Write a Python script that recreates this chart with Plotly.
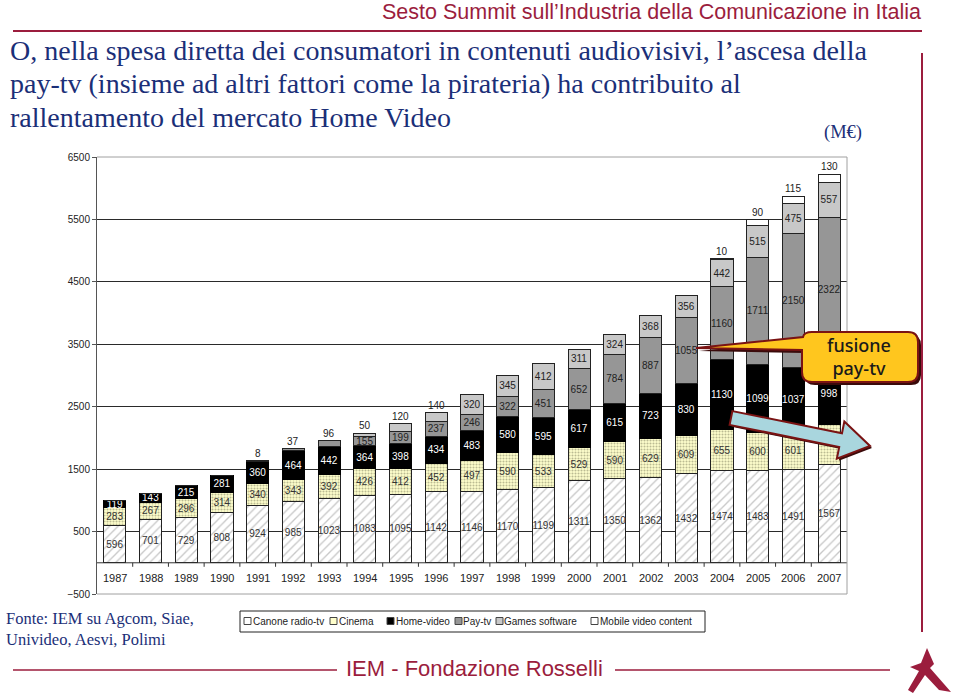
import math
import plotly.graph_objects as go

years = [str(y) for y in range(1987, 2008)]
canone = [596, 701, 729, 808, 924, 985, 1023, 1083, 1095, 1142, 1146, 1170, 1199, 1311, 1350, 1362, 1432, 1474, 1483, 1491, 1567]
cinema = [283, 267, 296, 314, 340, 343, 392, 426, 412, 452, 497, 590, 533, 529, 590, 629, 609, 655, 600, 601, 650]
home_video = [119, 143, 215, 281, 360, 464, 442, 364, 398, 434, 483, 580, 595, 617, 615, 723, 830, 1130, 1099, 1037, 998]
pay_tv = [0, 0, 0, 0, 8, 37, 96, 155, 199, 237, 246, 322, 451, 652, 784, 887, 1055, 1160, 1711, 2150, 2322]
games = [0, 0, 0, 0, 0, 0, 0, 50, 120, 140, 320, 345, 412, 311, 324, 368, 356, 442, 515, 475, 557]
mobile = [0] * 17 + [10, 90, 115, 130]

series_names = ["Canone radio-tv", "Cinema", "Home-video", "Pay-tv", "Games software", "Mobile video content"]

W, H = 960, 695
L_M, R_M, T_M, B_M = 97, 113, 157, 101
PW, PH = W - L_M - R_M, H - T_M - B_M
YMIN, YMAX = -500, 6500
TICK_DATA = 4 * (YMAX - YMIN) / PH  # 4 px expressed in data units

SANS = "Liberation Sans, Arial, sans-serif"
SERIF = "Liberation Serif, Times New Roman, serif"
NAVY = "#1b2f78"
RED = "#9b1d3d"


def px(x):
    return (x - L_M) / PW


def py(y):
    return (H - B_M - y) / PH


def path_px(points, close=True):
    s = "M " + " L ".join(f"{px(x):.5f},{py(y):.5f}" for x, y in points)
    return s + (" Z" if close else "")


fig = go.Figure()

small_thresh = 150
layers = [
    (canone, "Canone radio-tv", dict(color="white", line=dict(color="#222", width=1),
                                       pattern=dict(shape="/", fgcolor="#8f8f8f", bgcolor="white", size=6, solidity=0.22)), "#333", False),
    (cinema, "Cinema", dict(color="#ffffcc", line=dict(color="#222", width=1),
                             pattern=dict(shape=".", fgcolor="#77775a", bgcolor="#ffffcc", size=3, solidity=0.4)), "#333", False),
    (home_video, "Home-video", dict(color="#000000", line=dict(color="#000", width=1)), "white", False),
    (pay_tv, "Pay-tv", dict(color="#969696", line=dict(color="#222", width=1)), "#222", True),
    (games, "Games software", dict(color="#c8c8c8", line=dict(color="#222", width=1)), "#222", True),
    (mobile, "Mobile video content", dict(color="white", line=dict(color="#222", width=1)), "#222", True),
]

totals = [sum(v) for v in zip(canone, cinema, home_video, pay_tv, games, mobile)]
above = []
for vals, name, marker, tcol, small_above in layers:
    texts = []
    for i, v in enumerate(vals):
        if v == 0:
            texts.append("")
        elif small_above and v < small_thresh:
            texts.append("")
            above.append((i, totals[i], v))
        elif name == "Cinema" and years[i] == "2007":
            texts.append("")  # hidden under the arrow in the original
        else:
            texts.append(str(v))
    fig.add_trace(go.Bar(
        x=years, y=vals, name=name, marker=marker, text=texts,
        textposition="inside", insidetextanchor="middle", textangle=0,
        textfont=dict(family=SANS, size=10, color=tcol),
        showlegend=False, hoverinfo="x+y+name",
    ))

for i, tot, v in above:
    fig.add_annotation(x=i, y=tot, text=str(v), showarrow=False, yanchor="bottom",
                       yshift=0, font=dict(family=SANS, size=10, color="#222"))

# year labels below the zero line
for i, yr in enumerate(years):
    fig.add_annotation(x=i, y=YMIN / 2, text=yr, showarrow=False, yanchor="middle", xanchor="center",
                       font=dict(family=SANS, size=11, color="#222"))

fig.update_layout(
    width=W, height=H, barmode="stack", bargap=0.38,
    margin=dict(l=L_M, r=R_M, t=T_M, b=B_M, pad=0),
    paper_bgcolor="white", plot_bgcolor="white",
    uniformtext=dict(minsize=10, mode="show"),
    font=dict(family=SANS, size=10, color="#222"),
)

fig.update_yaxes(range=[YMIN, YMAX], tick0=-500, dtick=1000, showgrid=True, gridcolor="#2a2a2a",
                 gridwidth=1, zeroline=False, showline=True, linecolor="#555", linewidth=1,
                 ticks="outside", ticklen=4, tickcolor="#555",
                 tickfont=dict(family=SANS, size=10, color="#222"), domain=[0, 1])
fig.update_xaxes(type="category", range=[-0.5, len(years) - 0.5], showline=False, ticks="",
                 showticklabels=False, showgrid=False, zeroline=False)

shapes = []
# zero line with small category-boundary ticks
shapes.append(dict(type="line", xref="paper", yref="y", x0=0, x1=1, y0=0, y1=0,
                   line=dict(color="#333", width=1)))
tick_path = " ".join(f"M {i - 0.5},0 L {i - 0.5},{-TICK_DATA:.2f}" for i in range(1, len(years)))
shapes.append(dict(type="path", xref="x", yref="y", path=tick_path, line=dict(color="#333", width=1)))
# grey top, bottom, right border of plot
for y0 in (0, 1):
    shapes.append(dict(type="line", xref="paper", yref="paper", x0=0, x1=1, y0=y0, y1=y0,
                       line=dict(color="#a0a0a0", width=1)))
shapes.append(dict(type="line", xref="paper", yref="paper", x0=1, x1=1, y0=0, y1=1,
                   line=dict(color="#a0a0a0", width=1)))

# header line and right vertical line
shapes.append(dict(type="line", xref="paper", yref="paper", x0=px(13), x1=px(922), y0=py(31), y1=py(31),
                   line=dict(color=RED, width=2)))
shapes.append(dict(type="line", xref="paper", yref="paper", x0=px(922), x1=px(922), y0=py(53), y1=py(632),
                   line=dict(color=RED, width=2)))
# footer lines
shapes.append(dict(type="line", xref="paper", yref="paper", x0=px(13), x1=px(337), y0=py(670), y1=py(670),
                   line=dict(color=RED, width=1.5)))
shapes.append(dict(type="line", xref="paper", yref="paper", x0=px(615), x1=px(890), y0=py(670), y1=py(670),
                   line=dict(color=RED, width=1.5)))
# logo
logo = [(927, 648), (934, 664), (930, 668), (951, 692), (939, 690), (925, 675), (913, 693), (908, 690),
        (919, 671), (910, 667), (921, 663)]
shapes.append(dict(type="path", xref="paper", yref="paper", path=path_px(logo),
                   fillcolor=RED, line=dict(width=0)))

# legend box
shapes.append(dict(type="rect", xref="paper", yref="paper", x0=px(240), x1=px(705), y0=py(611), y1=py(632),
                   fillcolor="white", line=dict(color="#222", width=1)))
leg_items = [(244, "white", 251), (330, "#ffffcc", 337), (387, "#000000", 394), (455, "#969696", 461),
             (496, "#c8c8c8", 502), (591, "white", 598)]
for (sx, col, tx), name in zip(leg_items, series_names):
    shapes.append(dict(type="rect", xref="paper", yref="paper", x0=px(sx), x1=px(sx + 7),
                       y0=py(617.5), y1=py(624.5), fillcolor=col, line=dict(color="#444", width=1)))
    fig.add_annotation(xref="paper", yref="paper", x=px(tx), y=py(621.5), text=name, showarrow=False,
                       xanchor="left", yanchor="middle", font=dict(family=SANS, size=10, color="#222"))


# callout "fusione pay-tv"
def callout(dx=0, dy=0):
    x0, x1, y0, y1, r = 802 + dx, 918 + dx, 332 + dy, 382 + dy, 10
    pts = [
        f"M {px(x0 + r):.5f},{py(y0):.5f}",
        f"L {px(x1 - r):.5f},{py(y0):.5f}",
        f"Q {px(x1):.5f},{py(y0):.5f} {px(x1):.5f},{py(y0 + r):.5f}",
        f"L {px(x1):.5f},{py(y1 - r):.5f}",
        f"Q {px(x1):.5f},{py(y1):.5f} {px(x1 - r):.5f},{py(y1):.5f}",
        f"L {px(x0 + r):.5f},{py(y1):.5f}",
        f"Q {px(x0):.5f},{py(y1):.5f} {px(x0):.5f},{py(y1 - r):.5f}",
        f"L {px(x0):.5f},{py(350 + dy):.5f}",
        f"L {px(696 + dx):.5f},{py(348 + dy):.5f}",
        f"L {px(x0 + 1):.5f},{py(337 + dy):.5f}",
        f"Q {px(x0 + 2):.5f},{py(y0):.5f} {px(x0 + r):.5f},{py(y0):.5f}",
        "Z",
    ]
    return " ".join(pts)


shapes.append(dict(type="path", xref="paper", yref="paper", path=callout(3, 3),
                   fillcolor="#3a0a0a", line=dict(width=0)))
shapes.append(dict(type="path", xref="paper", yref="paper", path=callout(),
                   fillcolor="#ffc61e", line=dict(color="#7a1313", width=2)))
fig.add_annotation(xref="paper", yref="paper", x=px(859), y=py(356), text="fusione<br>pay-tv",
                   showarrow=False, align="center", xanchor="center", yanchor="middle",
                   font=dict(family="Noto Sans, sans-serif", size=18, color="#1a1a1a", weight=500))

# big arrow
Sx, Sy, Tx, Ty = 731, 418, 870, 446
Ld = math.hypot(Tx - Sx, Ty - Sy)
ux, uy = (Tx - Sx) / Ld, (Ty - Sy) / Ld
nx, ny = -uy, ux
hl, sw, hw = 30, 7, 19
Bx, By = Tx - ux * hl, Ty - uy * hl
arrow = [(Sx + nx * sw, Sy + ny * sw), (Bx + nx * sw, By + ny * sw), (Bx + nx * hw, By + ny * hw), (Tx, Ty),
         (Bx - nx * hw, By - ny * hw), (Bx - nx * sw, By - ny * sw), (Sx - nx * sw, Sy - ny * sw)]
shapes.append(dict(type="path", xref="paper", yref="paper",
                   path=path_px([(x + 2, y + 2) for x, y in arrow]), fillcolor="#3a0a0a", line=dict(width=0)))
shapes.append(dict(type="path", xref="paper", yref="paper", path=path_px(arrow),
                   fillcolor="#a9d6de", line=dict(color="#7a1313", width=2)))

fig.update_layout(shapes=shapes)

# header texts
fig.add_annotation(xref="paper", yref="paper", x=px(923), y=py(12),
                   text="Sesto Summit sull’Industria della Comunicazione in Italia",
                   showarrow=False, xanchor="right", yanchor="middle", font=dict(family=SANS, size=21.5, color=RED))
title_lines = [
    "O, nella spesa diretta dei consumatori in contenuti audiovisivi, l’ascesa della",
    "pay-tv (insieme ad altri fattori come la pirateria) ha contribuito al",
    "rallentamento del mercato Home Video",
]
for i, t in enumerate(title_lines):
    fig.add_annotation(xref="paper", yref="paper", x=px(8), y=py(50 + 33.5 * i), text=t, showarrow=False,
                       xanchor="left", yanchor="middle", font=dict(family=SERIF, size=28, color=NAVY))
fig.add_annotation(xref="paper", yref="paper", x=px(843), y=py(132), text="(M€)", showarrow=False,
                   xanchor="center", yanchor="middle", font=dict(family=SERIF, size=18.5, color=NAVY))
fig.add_annotation(xref="paper", yref="paper", x=px(4), y=py(629), text="Fonte: IEM su Agcom, Siae,<br>Univideo, Aesvi, Polimi",
                   showarrow=False, xanchor="left", yanchor="middle", align="left",
                   font=dict(family=SERIF, size=16.5, color=NAVY))
fig.add_annotation(xref="paper", yref="paper", x=px(474), y=py(668), text="IEM - Fondazione Rosselli",
                   showarrow=False, xanchor="center", yanchor="middle", font=dict(family=SANS, size=22, color=RED))

fig.write_html("out.html")
